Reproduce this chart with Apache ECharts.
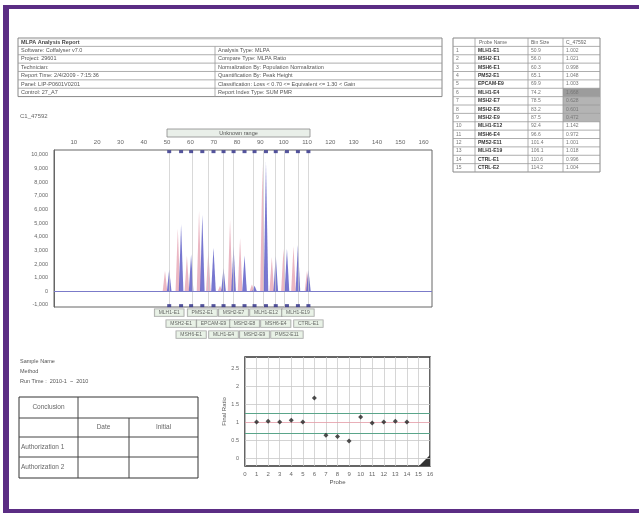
<!DOCTYPE html>
<html><head><meta charset="utf-8">
<script src="https://cdn.jsdelivr.net/npm/echarts@6/dist/echarts.min.js"></script>
<style>html,body{margin:0;padding:0;background:#fff}#c{width:639px;height:513px}</style>
</head><body><div id="c"></div>
<script>
// ---------- data ----------
const probeNames = ['MLH1-E1','MSH2-E1','MSH6-E1','PMS2-E1','EPCAM-E9','MLH1-E4','MSH2-E7','MSH2-E8','MSH2-E9','MLH1-E12','MSH6-E4','PMS2-E11','MLH1-E19','CTRL-E1','CTRL-E2'];
const binSizes = ['50.9','56.0','60.3','65.1','69.9','74.2','78.5','83.2','87.5','92.4','96.6','101.4','106.1','110.6','114.2'];
const tableRatios = ['1.002','1.021','0.998','1.048','1.003','1.668','0.628','0.601','0.472','1.142','0.972','1.001','1.018','0.996','1.004'];
const sampleX = [49.1,54.6,58.5,63.7,67.7,72.7,77.0,81.3,86.4,90.9,94.9,99.9,104.2,110.0];
const sampleH = [1500,4600,2600,5900,3000,400,5200,3900,500,9300,2500,3100,3300,1500];
const refX = [50.9,56.0,60.3,65.1,69.9,74.2,78.5,83.2,87.5,92.4,96.6,101.4,106.1,110.6];
const refH = [1600,4900,2700,5600,3200,1700,3300,2600,400,9500,2600,3100,3400,1600];
const binLines = [50.9,60.7,67.6,74.0,78.3,86.9,91.2,96.4,100.2,106.2,110.5];
const sizeTicks = [10,20,30,40,50,60,70,80,90,100,110,120,130,140,150,160];
const rfuTicks = [-1000,0,1000,2000,3000,4000,5000,6000,7000,8000,9000,10000];
const probeIndex = [1,2,3,4,5,6,7,8,9,10,11,12,13,14];
const finalRatio = [1.00,1.02,1.00,1.05,1.00,1.67,0.63,0.60,0.47,1.14,0.97,1.00,1.02,1.00];
const ratioTicks = [0,0.5,1,1.5,2,2.5];
const thresholds = [0.7,1.25];
const headerRows = [
  ['Software: Coffalyser v7.0','Analysis Type: MLPA'],
  ['Project: 29601','Compare Type: MLPA Ratio'],
  ['Technician:','Normalization By: Population Normalization'],
  ['Report Time: 2/4/2009 - 7:15:36','Quantification By: Peak Height'],
  ['Panel: LIP-P0601V0201','Classification: Loss < 0.70 <= Equivalent <= 1.30 < Gain'],
  ['Control: 27_A7','Report Index Type: SUM PMR']
];

// ---------- helpers ----------
const F = '"Liberation Sans", Arial, sans-serif';
const G = [];
function rect(x,y,w,h,fill,stroke,lw){G.push({type:'rect',silent:true,shape:{x:x,y:y,width:w,height:h},style:{fill:fill||'none',stroke:stroke||null,lineWidth:lw||1},z:1});}
function line(x1,y1,x2,y2,stroke,lw){G.push({type:'line',silent:true,shape:{x1:x1,y1:y1,x2:x2,y2:y2},style:{stroke:stroke||'#777',lineWidth:lw||1},z:2});}
function txt(x,y,t,size,color,align,weight){G.push({type:'text',silent:true,x:x,y:y,style:{text:t,fontSize:size||6,fontFamily:F,fill:color||'#555',align:align||'left',textAlign:align||'left',verticalAlign:'middle',textVerticalAlign:'middle',fontWeight:weight||'normal'},z:3});}

// purple frame
rect(3,5,636,4,'#5b2d84');
rect(3,5,6,508,'#5b2d84');
rect(3,509,636,4,'#5b2d84');

// header table
(function(){
  const x0=18,x1=442,xm=215,y0=38,rh=8.37;
  rect(x0,y0,x1-x0,rh*7,'#fff','#888',1);
  for(let i=1;i<7;i++) line(x0,y0+rh*i,x1,y0+rh*i,'#999',0.8);
  line(xm,y0+rh,xm,y0+rh*7,'#999',0.8);
  line(x0+1.5,y0+1.5,x1-1.5,y0+1.5,'#ddd',0.6);
  txt(x0+3,y0+rh/2,'MLPA Analysis Report',5.5,'#444','left','bold');
  headerRows.forEach((r,i)=>{
    txt(x0+3,y0+rh*(i+1)+rh/2,r[0],5.5,'#555');
    txt(xm+3,y0+rh*(i+1)+rh/2,r[1],5.5,'#555');
  });
  txt(20,116,'C1_47592',6,'#666');
})();

// probe table (right)
(function(){
  const xs=[453,475,528,563,600],y0=38,rh=8.375;
  rect(xs[0],y0,xs[4]-xs[0],rh*16,'#fff','#888',1);
  for(let i=6;i<=9;i++) rect(xs[3],y0+rh*i,xs[4]-xs[3],rh,i===6?'#9c9c9c':'#b4b4b4');
  for(let i=1;i<16;i++) line(xs[0],y0+rh*i,xs[4],y0+rh*i,'#999',0.8);
  for(let j=1;j<4;j++) line(xs[j],y0,xs[j],y0+rh*16,'#999',0.8);
  txt(xs[1]+4,y0+rh/2,'Probe Name',5,'#666');
  txt(xs[2]+3,y0+rh/2,'Bin Size',5,'#666');
  txt(xs[3]+3,y0+rh/2,'C_47592',5,'#666');
  probeNames.forEach((n,i)=>{
    const yy=y0+rh*(i+1)+rh/2;
    txt(xs[0]+3,yy,String(i+1),5,'#777');
    txt(xs[1]+3,yy,n,5,'#333','left','bold');
    txt(xs[2]+3,yy,binSizes[i],5,'#777');
    txt(xs[3]+3,yy,tableRatios[i],5,'#777');
  });
})();

// range box above main chart
rect(167,129,143,8,'#e9efe9','#888',0.8);
txt(238.5,133,'Unknown range',5.5,'#555','center');

// lower-left text + table
txt(20,361,'Sample Name',5.5,'#555');
txt(20,371,'Method',5.5,'#555');
txt(20,381,'Run Time :  2010-1  ~  2010',5.5,'#555');
(function(){
  const x0=19,xa=78,xb=129,x1=198,ys=[397,418,437,457,478];
  rect(x0,ys[0],x1-x0,ys[4]-ys[0],'#fff','#333',1);
  for(let i=1;i<4;i++) line(x0,ys[i],x1,ys[i],'#444',1);
  line(xa,ys[0],xa,ys[4],'#444',1);
  line(xb,ys[1],xb,ys[4],'#444',1);
  txt((x0+xa)/2,(ys[0]+ys[1])/2,'Conclusion',6.5,'#666','center');
  txt((xa+xb)/2,(ys[1]+ys[2])/2,'Date',6.5,'#666','center');
  txt((xb+x1)/2,(ys[1]+ys[2])/2,'Initial',6.5,'#666','center');
  txt(x0+2,(ys[2]+ys[3])/2,'Authorization 1',6.5,'#666');
  txt(x0+2,(ys[3]+ys[4])/2,'Authorization 2',6.5,'#666');
})();
// corner triangle in ratio plot
G.push({type:'polygon',silent:true,shape:{points:[[430,455],[430,466],[419,466]]},style:{fill:'#333'},z:5});

// ---------- chart ----------
function peak(color){
  return function(params,api){
    const x=api.value(0),h=api.value(1);
    const t=api.coord([x,h]),b=api.coord([x,0]);
    const w=2.3;
    return {type:'polygon',shape:{points:[[b[0]-w,b[1]],[t[0],t[1]],[b[0]+w,b[1]]]},style:{fill:color}};
  };
}
const chart = echarts.init(document.getElementById('c'),null,{renderer:'canvas'});
chart.setOption({
  animation:false,
  backgroundColor:'#fff',
  textStyle:{fontFamily:F},
  graphic:G,
  grid:[
    {left:54,top:150,width:378,height:157,show:true,borderColor:'#666',borderWidth:1,backgroundColor:'#fff'},
    {left:245,top:357,width:185,height:109,show:true,borderColor:'#333',borderWidth:1.5,backgroundColor:'#fff'}
  ],
  xAxis:[
    {gridIndex:0,type:'value',position:'top',min:1.5,max:163.6,
     axisLine:{show:false},axisTick:{show:false},splitLine:{show:false},
     axisLabel:{customValues:sizeTicks,fontSize:6,color:'#666',margin:5}},
    {gridIndex:1,type:'value',min:0,max:16,interval:1,name:'Probe',nameLocation:'middle',nameGap:13,
     nameTextStyle:{fontSize:6,color:'#555'},
     axisLine:{show:false},axisTick:{show:false},
     splitLine:{show:true,lineStyle:{color:'#ccc',width:0.8}},
     axisLabel:{fontSize:6,color:'#666',margin:5}}
  ],
  yAxis:[
    {gridIndex:0,type:'value',min:-1150,max:10350,
     axisLine:{show:true,lineStyle:{color:'#666'}},axisTick:{show:false},splitLine:{show:false},
     axisLabel:{customValues:rfuTicks,fontSize:5.5,color:'#666',margin:6,
       formatter:v=>v.toLocaleString('en-US')}},
    {gridIndex:1,type:'value',min:-0.222,max:2.806,name:'Final Ratio',nameLocation:'middle',nameGap:17,nameRotate:90,
     nameTextStyle:{fontSize:6,color:'#555'},
     axisLine:{show:false},axisTick:{show:false},splitLine:{show:false},
     axisLabel:{customValues:ratioTicks,fontSize:5.5,color:'#666',margin:6}}
  ],
  series:[
    {type:'custom',xAxisIndex:0,yAxisIndex:0,renderItem:peak('rgba(232,170,185,0.85)'),
     data:sampleX.map((x,i)=>[x,sampleH[i]]),z:3,clip:true,
     markLine:{silent:true,symbol:'none',label:{show:false},
       lineStyle:{color:'#c8c8c8',width:0.7,type:'solid'},
       data:binLines.map(v=>({xAxis:v}))}},
    {type:'custom',xAxisIndex:0,yAxisIndex:0,renderItem:peak('rgba(95,95,200,0.85)'),
     data:refX.map((x,i)=>[x,refH[i]]),z:4,clip:true,
     markLine:{silent:true,symbol:'none',label:{show:false},
       lineStyle:{color:'#7b7bc9',width:1,type:'solid'},data:[{yAxis:0}]}},
    {type:'scatter',xAxisIndex:0,yAxisIndex:0,symbol:'rect',symbolSize:[4,3],clip:false,
     itemStyle:{color:'#2b2b85'},data:refX.map(x=>[x,10230]),z:6},
    {type:'scatter',xAxisIndex:0,yAxisIndex:0,symbol:'rect',symbolSize:[4,3],clip:false,
     itemStyle:{color:'#2b2b85'},z:6,
     data:refX.map((x,i)=>({value:[x,-1050],
       label:{show:true,position:'bottom',distance:2+(i%3)*11,formatter:probeNames[i],
         fontSize:5,color:'#444',backgroundColor:'#e3efe1',borderColor:'#8a8a8a',borderWidth:0.7,
         padding:[1,4,1,4],fontFamily:F}}))},
    {type:'scatter',xAxisIndex:1,yAxisIndex:1,symbol:'diamond',symbolSize:5,
     itemStyle:{color:'#222'},data:probeIndex.map((x,i)=>[x,finalRatio[i]]),z:6,
     markLine:{silent:true,symbol:'none',label:{show:false},
       data:ratioTicks.filter(v=>v!==1).map(v=>({yAxis:v,lineStyle:{color:'#c8c8c8',width:0.8,type:'solid'}}))
         .concat([{yAxis:1,lineStyle:{color:'#e39aa6',width:0.8,type:'solid'}}])
         .concat(thresholds.map(v=>({yAxis:v,lineStyle:{color:'#5aa58a',width:1,type:'solid'}})))}}
  ]
});
</script></body></html>
